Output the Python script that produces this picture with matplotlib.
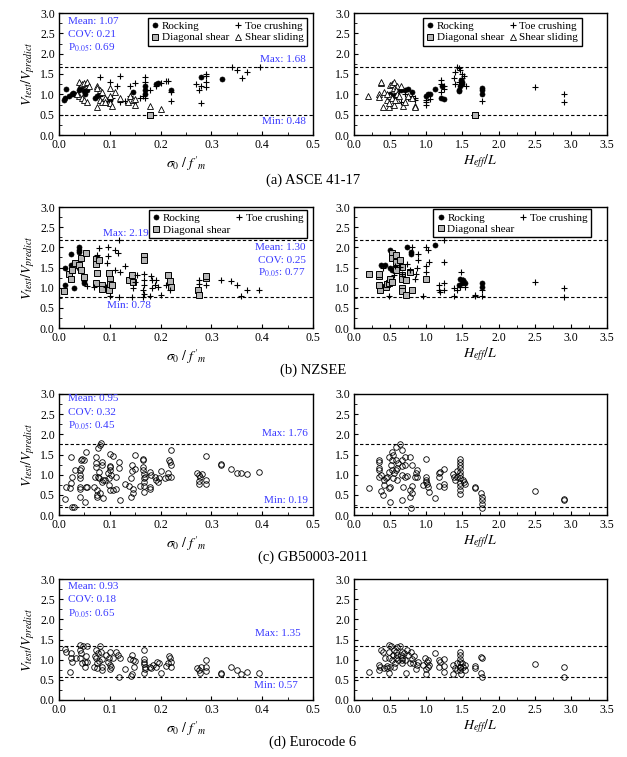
import matplotlib
matplotlib.use("Agg")
import matplotlib.pyplot as plt
import matplotlib.transforms as mtransforms
from matplotlib.ticker import MultipleLocator

plt.rcParams['font.family'] = ['Liberation Serif', 'DejaVu Serif']
plt.rcParams['mathtext.fontset'] = 'stix'

# ---------------- (a) ASCE 41-17 ----------------
a_l_rock_x = [0.01, 0.012, 0.013, 0.02, 0.025, 0.028, 0.03, 0.04, 0.042, 0.045, 0.05, 0.052, 0.055, 0.07, 0.075, 0.08, 0.1, 0.145, 0.17, 0.17, 0.17, 0.19, 0.195, 0.22, 0.28, 0.32]
a_l_rock_y = [0.85, 0.9, 1.12, 0.95, 1.0, 1.03, 1.0, 1.1, 1.15, 1.2, 1.08, 1.0, 1.1, 0.9, 0.95, 1.0, 0.85, 1.05, 1.2, 1.1, 1.0, 1.25, 1.28, 1.1, 1.43, 1.37]
a_l_toe_x = [0.08, 0.12, 0.1, 0.115, 0.12, 0.13, 0.14, 0.14, 0.15, 0.16, 0.17, 0.17, 0.165, 0.17, 0.18, 0.19, 0.2, 0.21, 0.215, 0.22, 0.22, 0.27, 0.275, 0.28, 0.28, 0.29, 0.29, 0.29, 0.29, 0.34, 0.35, 0.36, 0.37, 0.395, 0.08, 0.095, 0.105]
a_l_toe_y = [1.42, 1.45, 1.3, 1.2, 0.8, 0.83, 0.95, 1.2, 1.27, 0.9, 1.42, 1.3, 0.95, 0.9, 1.1, 1.2, 1.28, 1.32, 1.33, 1.05, 0.83, 1.25, 1.1, 1.2, 0.78, 1.5, 1.45, 1.3, 1.17, 1.68, 1.6, 1.4, 1.55, 1.68, 0.95, 0.85, 0.9]
a_l_diag_x = [0.18, 0.18]
a_l_diag_y = [0.5, 0.48]
a_l_slide_x = [0.04, 0.045, 0.05, 0.055, 0.04, 0.045, 0.05, 0.055, 0.035, 0.075, 0.08, 0.085, 0.075, 0.08, 0.085, 0.09, 0.1, 0.1, 0.1, 0.105, 0.11, 0.12, 0.135, 0.14, 0.145, 0.15, 0.15, 0.18, 0.2, 0.075, 0.06, 0.09]
a_l_slide_y = [1.3, 1.25, 1.28, 1.3, 0.95, 0.9, 0.85, 0.8, 1.0, 1.2, 1.1, 1.05, 0.7, 0.85, 0.8, 0.9, 1.15, 0.95, 0.78, 0.72, 1.05, 0.9, 0.8, 0.95, 0.85, 0.88, 0.75, 0.72, 0.65, 1.15, 1.2, 0.82]

a_r_rock_x = [0.6, 0.65, 0.7, 0.75, 0.8, 1.0, 1.02, 1.05, 1.12, 1.2, 1.25, 1.22, 1.45, 1.47, 1.48, 1.5, 1.5, 1.77, 1.77, 1.77, 0.55, 0.5, 1.45]
a_r_rock_y = [1.05, 1.1, 1.1, 1.12, 1.05, 0.95, 1.0, 1.0, 1.13, 0.9, 0.88, 1.2, 1.1, 1.2, 1.35, 1.25, 1.3, 1.15, 1.1, 1.0, 0.95, 1.0, 1.08]
a_r_toe_x = [0.7, 0.75, 0.8, 0.85, 0.85, 1.0, 1.0, 1.0, 1.05, 1.2, 1.2, 1.25, 1.25, 1.2, 1.38, 1.4, 1.42, 1.45, 1.47, 1.5, 1.52, 1.4, 1.45, 1.55, 1.77, 2.5, 2.9, 2.9, 0.65, 1.5]
a_r_toe_y = [1.0, 0.9, 0.95, 0.85, 0.9, 0.75, 0.8, 0.85, 0.88, 1.35, 1.25, 1.2, 1.12, 1.05, 1.4, 1.55, 1.68, 1.65, 1.6, 1.5, 1.45, 1.25, 1.3, 1.2, 0.83, 1.17, 1.0, 0.8, 0.8, 1.4]
a_r_diag_x = [1.68, 1.67]
a_r_diag_y = [0.5, 0.48]
a_r_slide_x = [0.2, 0.35, 0.37, 0.38, 0.35, 0.4, 0.42, 0.45, 0.48, 0.5, 0.52, 0.55, 0.55, 0.5, 0.53, 0.55, 0.6, 0.6, 0.65, 0.68, 0.7, 0.45, 0.48, 0.58, 0.6, 0.75, 0.8, 0.85, 0.85, 0.62, 0.57]
a_r_slide_y = [0.97, 1.0, 1.27, 1.3, 0.93, 0.7, 1.05, 0.85, 0.68, 1.22, 1.25, 1.3, 1.15, 0.95, 0.9, 0.75, 1.2, 0.85, 1.2, 0.72, 0.8, 1.0, 0.78, 1.1, 1.0, 0.95, 0.9, 0.72, 0.7, 0.95, 0.85]

# ---------------- (b) NZSEE ----------------
b_l_rock_x = [0.0125, 0.0125, 0.023, 0.023, 0.029, 0.039, 0.039, 0.039, 0.039, 0.049, 0.05]
b_l_rock_y = [1.07, 1.50, 1.84, 1.55, 0.99, 2.02, 1.94, 1.88, 1.50, 1.12, 1.16]
b_l_diag_x = [0.01, 0.019, 0.023, 0.026, 0.032, 0.039, 0.044, 0.044, 0.053, 0.05, 0.072, 0.072, 0.074, 0.072, 0.079, 0.084, 0.084, 0.099, 0.1, 0.1, 0.099, 0.105, 0.138, 0.143, 0.145, 0.168, 0.168, 0.215, 0.218, 0.22, 0.274, 0.276, 0.29, 0.29]
b_l_diag_y = [0.92, 1.33, 1.22, 1.43, 1.61, 1.57, 1.74, 1.43, 1.86, 1.26, 1.72, 1.58, 1.36, 1.12, 1.68, 1.07, 0.96, 1.36, 1.22, 1.10, 0.95, 1.06, 1.18, 1.31, 1.14, 1.78, 1.69, 1.31, 1.17, 1.02, 0.93, 0.83, 1.24, 1.28]
b_l_toe_x = [0.097, 0.116, 0.11, 0.097, 0.095, 0.11, 0.12, 0.13, 0.118, 0.074, 0.079, 0.069, 0.055, 0.093, 0.1, 0.118, 0.143, 0.153, 0.149, 0.146, 0.168, 0.168, 0.168, 0.166, 0.181, 0.184, 0.188, 0.191, 0.195, 0.179, 0.2, 0.184, 0.218, 0.21, 0.276, 0.276, 0.29, 0.319, 0.339, 0.35, 0.37, 0.393, 0.359, 0.168, 0.166]
b_l_toe_y = [2.02, 1.86, 1.94, 1.78, 1.61, 1.45, 1.39, 1.53, 2.17, 1.80, 1.99, 1.02, 1.03, 1.02, 0.79, 0.77, 0.77, 1.31, 1.14, 0.98, 1.35, 1.18, 1.06, 0.93, 1.28, 1.18, 1.07, 1.18, 1.02, 0.79, 0.81, 0.98, 0.95, 1.06, 1.10, 1.20, 1.06, 1.18, 1.16, 1.07, 0.95, 0.93, 0.79, 0.85, 0.77]

b_r_rock_x = [0.5, 0.38, 0.43, 0.5, 0.52, 0.74, 0.79, 0.79, 1.12, 1.47, 1.49, 1.51, 1.53, 1.45, 1.77, 1.77, 0.58]
b_r_rock_y = [1.93, 1.55, 1.55, 1.49, 1.43, 2.02, 1.88, 1.83, 2.05, 1.22, 1.12, 1.18, 1.12, 1.06, 1.12, 1.02, 1.43]
b_r_diag_x = [0.21, 0.35, 0.35, 0.36, 0.35, 0.44, 0.45, 0.49, 0.52, 0.52, 0.58, 0.58, 0.58, 0.63, 0.66, 0.67, 0.67, 0.67, 0.67, 0.72, 0.72, 0.77, 0.8, 1.0, 0.5, 0.52]
b_r_diag_y = [1.33, 1.28, 1.35, 0.95, 1.06, 1.02, 1.10, 1.12, 1.86, 1.74, 1.80, 1.64, 1.43, 1.68, 1.51, 1.31, 1.22, 0.98, 0.92, 1.18, 0.83, 1.39, 0.95, 1.22, 1.22, 1.14]
b_r_toe_x = [0.4, 0.48, 0.55, 0.57, 0.64, 0.66, 0.74, 0.77, 0.8, 0.86, 0.85, 0.87, 0.88, 0.88, 0.96, 1.0, 1.03, 1.0, 1.0, 1.04, 1.18, 1.18, 1.19, 1.25, 1.25, 1.25, 1.25, 1.38, 1.39, 1.42, 1.46, 1.48, 1.51, 1.53, 1.68, 1.68, 1.77, 1.77, 2.51, 2.9, 2.9]
b_r_toe_y = [1.49, 0.79, 1.31, 1.53, 1.51, 1.35, 1.59, 1.45, 2.0, 1.35, 1.22, 1.49, 1.68, 1.84, 0.79, 2.02, 1.93, 1.53, 1.39, 1.64, 0.93, 1.07, 0.89, 0.93, 1.12, 1.64, 2.17, 0.79, 0.98, 0.95, 1.02, 1.39, 1.2, 1.02, 0.79, 0.83, 0.79, 0.95, 1.14, 0.98, 0.77]

# ---------------- (c) GB50003-2011 ----------------
c_l_x = [0.011, 0.014, 0.021, 0.024, 0.026, 0.024, 0.026, 0.03, 0.032, 0.041, 0.041, 0.041, 0.041, 0.041, 0.041, 0.044, 0.044, 0.046, 0.051, 0.053, 0.055, 0.054, 0.049, 0.069, 0.07, 0.072, 0.072, 0.072, 0.074, 0.074, 0.075, 0.076, 0.076, 0.08, 0.079, 0.079, 0.082, 0.084, 0.085, 0.084, 0.086, 0.086, 0.08, 0.09, 0.097, 0.099, 0.1, 0.1, 0.101, 0.1, 0.102, 0.1, 0.099, 0.107, 0.107, 0.112, 0.113, 0.118, 0.118, 0.12, 0.13, 0.138, 0.141, 0.141, 0.143, 0.144, 0.146, 0.146, 0.149, 0.149, 0.159, 0.166, 0.166, 0.166, 0.166, 0.167, 0.167, 0.168, 0.168, 0.168, 0.169, 0.179, 0.18, 0.179, 0.182, 0.188, 0.191, 0.195, 0.197, 0.2, 0.208, 0.215, 0.217, 0.218, 0.22, 0.22, 0.22, 0.215, 0.271, 0.276, 0.278, 0.276, 0.276, 0.281, 0.29, 0.29, 0.29, 0.319, 0.319, 0.339, 0.35, 0.359, 0.37, 0.393]
c_l_y = [0.39, 0.69, 0.67, 1.43, 0.95, 0.79, 0.19, 0.21, 1.12, 1.12, 0.99, 0.91, 0.69, 0.64, 0.44, 1.36, 1.16, 1.40, 0.33, 0.69, 0.70, 1.57, 1.36, 0.69, 0.95, 1.45, 1.28, 1.18, 0.50, 0.44, 0.62, 0.95, 1.65, 1.74, 1.07, 0.91, 1.78, 1.24, 1.32, 0.83, 0.87, 0.41, 0.54, 0.87, 1.03, 0.91, 1.51, 1.18, 1.21, 1.12, 0.99, 0.62, 0.74, 1.47, 0.62, 0.95, 0.64, 1.32, 1.16, 0.37, 0.77, 0.72, 0.91, 0.44, 1.24, 1.10, 0.54, 0.64, 1.13, 1.49, 0.72, 1.36, 1.40, 1.2, 1.12, 1.02, 0.91, 0.83, 0.72, 0.58, 0.95, 1.07, 0.69, 0.64, 0.99, 0.93, 0.87, 0.83, 0.91, 1.10, 0.91, 1.05, 1.36, 1.32, 1.62, 1.24, 0.95, 0.93, 1.05, 0.99, 0.93, 0.85, 0.77, 1.02, 1.46, 0.87, 0.77, 1.26, 1.24, 1.13, 1.05, 1.03, 1.01, 1.07]
c_r_x = [0.21, 0.34, 0.34, 0.35, 0.35, 0.34, 0.37, 0.38, 0.4, 0.41, 0.42, 0.44, 0.46, 0.48, 0.48, 0.49, 0.5, 0.5, 0.51, 0.52, 0.52, 0.52, 0.54, 0.54, 0.55, 0.58, 0.58, 0.58, 0.59, 0.6, 0.61, 0.63, 0.66, 0.66, 0.66, 0.67, 0.67, 0.68, 0.7, 0.71, 0.71, 0.73, 0.77, 0.78, 0.78, 0.79, 0.8, 0.8, 0.8, 0.84, 0.86, 0.87, 0.87, 0.96, 1.0, 1.0, 1.0, 1.0, 1.01, 1.03, 1.04, 1.12, 1.18, 1.18, 1.18, 1.19, 1.25, 1.25, 1.25, 1.37, 1.38, 1.4, 1.42, 1.42, 1.46, 1.47, 1.47, 1.47, 1.47, 1.47, 1.47, 1.47, 1.47, 1.47, 1.47, 1.51, 1.52, 1.54, 1.67, 1.67, 1.76, 1.77, 1.77, 1.77, 1.77, 2.51, 2.9, 2.9]
c_r_y = [0.66, 1.36, 1.32, 1.16, 1.12, 0.95, 0.99, 0.60, 0.50, 0.88, 0.74, 0.91, 0.95, 1.45, 1.07, 0.66, 0.69, 0.33, 1.24, 1.57, 1.36, 1.12, 0.91, 1.49, 1.03, 1.69, 1.36, 1.12, 0.88, 1.16, 1.28, 1.75, 0.37, 1.60, 1.36, 1.21, 0.99, 0.69, 1.45, 1.24, 0.95, 0.97, 1.43, 0.62, 0.44, 0.18, 1.24, 0.71, 0.54, 0.95, 1.03, 1.12, 0.95, 0.74, 1.40, 0.95, 0.88, 0.83, 0.77, 0.69, 0.58, 0.41, 0.95, 1.03, 0.72, 1.07, 1.13, 0.77, 0.69, 1.02, 0.93, 0.87, 1.10, 0.95, 1.07, 1.38, 1.32, 1.24, 1.16, 0.99, 0.91, 0.80, 0.71, 0.62, 0.52, 0.88, 0.83, 0.77, 0.69, 0.66, 0.55, 0.45, 0.36, 0.27, 0.18, 0.60, 0.39, 0.36]

# ---------------- (d) Eurocode 6 ----------------
d_l_x = [0.011, 0.013, 0.021, 0.024, 0.024, 0.026, 0.034, 0.041, 0.041, 0.041, 0.044, 0.046, 0.047, 0.051, 0.051, 0.053, 0.055, 0.055, 0.069, 0.07, 0.072, 0.072, 0.074, 0.075, 0.077, 0.079, 0.08, 0.082, 0.084, 0.084, 0.085, 0.092, 0.097, 0.099, 0.1, 0.1, 0.1, 0.103, 0.107, 0.112, 0.116, 0.118, 0.12, 0.13, 0.139, 0.141, 0.143, 0.144, 0.146, 0.148, 0.149, 0.168, 0.168, 0.168, 0.168, 0.169, 0.169, 0.168, 0.179, 0.182, 0.186, 0.191, 0.192, 0.197, 0.2, 0.21, 0.215, 0.217, 0.218, 0.22, 0.22, 0.271, 0.276, 0.278, 0.28, 0.29, 0.29, 0.29, 0.319, 0.319, 0.339, 0.35, 0.359, 0.37, 0.393]
d_l_y = [1.26, 1.18, 0.70, 1.16, 1.04, 0.95, 1.04, 1.37, 1.24, 1.04, 1.16, 0.91, 1.33, 0.95, 0.83, 1.08, 1.35, 0.95, 0.83, 1.08, 1.24, 1.04, 0.91, 0.79, 1.16, 0.97, 1.35, 1.20, 1.01, 0.83, 0.75, 1.12, 0.95, 1.04, 1.20, 0.87, 0.76, 0.83, 1.04, 1.20, 1.12, 0.56, 1.04, 0.76, 1.01, 0.60, 0.65, 1.12, 0.99, 0.83, 0.97, 1.24, 1.01, 0.95, 0.89, 0.83, 0.76, 0.68, 0.83, 0.79, 0.87, 0.83, 0.93, 0.91, 0.66, 0.85, 0.91, 1.10, 1.04, 0.95, 0.81, 0.79, 0.75, 0.66, 0.81, 0.99, 0.83, 0.72, 0.65, 0.66, 0.81, 0.75, 0.65, 0.70, 0.68]
d_r_x = [0.21, 0.34, 0.34, 0.36, 0.37, 0.4, 0.42, 0.43, 0.45, 0.46, 0.48, 0.48, 0.49, 0.49, 0.5, 0.51, 0.52, 0.54, 0.55, 0.55, 0.57, 0.58, 0.58, 0.59, 0.6, 0.61, 0.63, 0.65, 0.66, 0.66, 0.67, 0.67, 0.69, 0.71, 0.72, 0.74, 0.75, 0.77, 0.79, 0.8, 0.82, 0.83, 0.86, 0.87, 0.88, 0.96, 0.98, 1.0, 1.0, 1.01, 1.02, 1.03, 1.04, 1.12, 1.17, 1.18, 1.19, 1.24, 1.25, 1.25, 1.37, 1.37, 1.4, 1.42, 1.42, 1.46, 1.47, 1.47, 1.47, 1.47, 1.47, 1.47, 1.48, 1.5, 1.51, 1.53, 1.54, 1.67, 1.67, 1.76, 1.77, 1.76, 1.77, 2.51, 2.9, 2.9]
d_r_y = [0.70, 0.75, 0.86, 0.81, 1.24, 1.20, 0.79, 1.04, 0.79, 0.85, 1.04, 0.66, 1.37, 1.20, 0.83, 1.35, 1.0, 1.12, 0.83, 1.24, 0.91, 1.04, 1.20, 1.31, 1.12, 1.0, 1.33, 1.12, 0.99, 1.20, 1.04, 0.91, 1.16, 1.0, 0.66, 1.24, 1.12, 0.91, 1.18, 1.01, 0.91, 1.10, 0.76, 0.87, 0.95, 0.87, 1.04, 0.76, 0.65, 0.95, 0.83, 0.99, 0.87, 1.16, 0.99, 0.83, 0.93, 1.01, 0.85, 0.70, 0.87, 0.65, 0.79, 0.91, 0.75, 0.83, 1.20, 1.12, 1.01, 0.95, 0.83, 0.75, 0.65, 0.91, 0.83, 0.75, 0.87, 0.85, 0.79, 1.06, 1.04, 0.68, 0.58, 0.89, 0.81, 0.56]

# limits and stats
max_lines = [1.68, 2.19, 1.76, 1.35]
min_lines = [0.48, 0.78, 0.19, 0.57]
stats = [("1.07", "0.21", "0.69"), ("1.30", "0.25", "0.77"), ("0.95", "0.32", "0.45"), ("0.93", "0.18", "0.65")]
captions = ["(a) ASCE 41-17", "(b) NZSEE", "(c) GB50003-2011", "(d) Eurocode 6"]

BLUE = '#3a3aff'
W, H = 627, 757
fig = plt.figure(figsize=(W / 100, H / 100), dpi=100)

def px_axes(x0, x1, y0, y1):
    return fig.add_axes([x0 / W, (H - y1) / H, (x1 - x0) / W, (y1 - y0) / H])

row_px = [(13, 135), (207, 328), (394, 515), (579, 700)]
caption_y = [180, 370, 557, 742]

def style(ax, left):
    ax.set_ylim(0, 3.0)
    ax.yaxis.set_major_locator(MultipleLocator(0.5))
    ax.yaxis.set_minor_locator(MultipleLocator(0.25))
    if left:
        ax.set_xlim(0, 0.5)
        ax.xaxis.set_major_locator(MultipleLocator(0.1))
        ax.xaxis.set_minor_locator(MultipleLocator(0.05))
        ax.set_xlabel(r"$\sigma_0\ /\ f'_m$", fontsize=10, labelpad=2)
        ax.set_ylabel(r"$V_{test}/V_{predict}$", fontsize=10, labelpad=2)
    else:
        ax.set_xlim(0, 3.5)
        ax.xaxis.set_major_locator(MultipleLocator(0.5))
        ax.xaxis.set_minor_locator(MultipleLocator(0.25))
        ax.set_xlabel(r"$H_{eff}/L$", fontsize=10, labelpad=1)
    ax.xaxis.set_major_formatter(matplotlib.ticker.FormatStrFormatter('%.1f'))
    ax.yaxis.set_major_formatter(matplotlib.ticker.FormatStrFormatter('%.1f'))
    ax.tick_params(which='major', direction='in', length=3, width=0.8, labelsize=8.5, pad=3)
    ax.tick_params(which='minor', direction='in', length=2, width=0.6)
    for sp in ax.spines.values():
        sp.set_linewidth(1.0)

def hlines(ax, i):
    ax.axhline(max_lines[i], color='black', linestyle=(0, (3, 2)), linewidth=0.8, zorder=1)
    ax.axhline(min_lines[i], color='black', linestyle=(0, (3, 2)), linewidth=0.8, zorder=1)

rock_kw = dict(linestyle='none', marker='o', ms=3.6, mfc='black', mec='black', mew=0.5)
toe_kw = dict(linestyle='none', marker='+', ms=4.5, mec='black', mew=0.8)
diag_kw = dict(linestyle='none', marker='s', ms=4.3, mfc='#b5b5b5', mec='black', mew=0.7)
slide_kw = dict(linestyle='none', marker='^', ms=4, mfc='white', mec='black', mew=0.6)
open_kw = dict(linestyle='none', marker='o', ms=4, mfc='none', mec='black', mew=0.6)

leg_kw = dict(fontsize=8, frameon=True, fancybox=False, edgecolor='black', framealpha=1,
              handlelength=0.7, handletextpad=0.25, columnspacing=0.45, borderpad=0.3,
              labelspacing=0.15, borderaxespad=0)

axes = []
for r, (y0, y1) in enumerate(row_px):
    axl = px_axes(59, 313, y0, y1)
    axr = px_axes(354, 607, y0, y1)
    style(axl, True)
    style(axr, False)
    hlines(axl, r)
    hlines(axr, r)
    axes.append((axl, axr))
    fig.text(313 / W, 1 - caption_y[r] / H, captions[r], ha='center', va='center', fontsize=10.5)

# (a)
axl, axr = axes[0]
h1, = axl.plot(a_l_rock_x, a_l_rock_y, label='Rocking', **rock_kw)
h2, = axl.plot(a_l_diag_x, a_l_diag_y, label='Diagonal shear', **diag_kw)
h3, = axl.plot(a_l_toe_x, a_l_toe_y, label='Toe crushing', **toe_kw)
h4, = axl.plot(a_l_slide_x, a_l_slide_y, label='Shear sliding', **slide_kw)
axl.legend(handles=[h1, h2, h3, h4], ncol=2, loc='upper right', bbox_to_anchor=(0.976, 0.96), **leg_kw)
g1, = axr.plot(a_r_rock_x, a_r_rock_y, label='Rocking', **rock_kw)
g2, = axr.plot(a_r_diag_x, a_r_diag_y, label='Diagonal shear', **diag_kw)
g3, = axr.plot(a_r_toe_x, a_r_toe_y, label='Toe crushing', **toe_kw)
g4, = axr.plot(a_r_slide_x, a_r_slide_y, label='Shear sliding', **slide_kw)
axr.legend(handles=[g1, g2, g3, g4], ncol=2, loc='upper right', bbox_to_anchor=(0.90, 0.96), **leg_kw)

# (b)
axl, axr = axes[1]
h1, = axl.plot(b_l_rock_x, b_l_rock_y, label='Rocking', **rock_kw)
h2, = axl.plot(b_l_diag_x, b_l_diag_y, label='Diagonal shear', **diag_kw)
h3, = axl.plot(b_l_toe_x, b_l_toe_y, label='Toe crushing', **toe_kw)
axl.legend(handles=[h1, h2, h3], ncol=2, loc='upper right', bbox_to_anchor=(0.976, 0.975), **leg_kw)
g1, = axr.plot(b_r_rock_x, b_r_rock_y, label='Rocking', **rock_kw)
g2, = axr.plot(b_r_diag_x, b_r_diag_y, label='Diagonal shear', **diag_kw)
g3, = axr.plot(b_r_toe_x, b_r_toe_y, label='Toe crushing', **toe_kw)
axr.legend(handles=[g1, g2, g3], ncol=2, loc='upper right', bbox_to_anchor=(0.937, 0.98), **leg_kw)

# (c)
axl, axr = axes[2]
axl.plot(c_l_x, c_l_y, **open_kw)
axr.plot(c_r_x, c_r_y, **open_kw)
# (d)
axl, axr = axes[3]
axl.plot(d_l_x, d_l_y, **open_kw)
axr.plot(d_r_x, d_r_y, **open_kw)

# stats text
tfs = 8
def stat_block(ax, x, ys, i, ha='left', trans_data=False):
    m, c, p = stats[i]
    lines = ["Mean: " + m, "COV: " + c, r"P$_{0.05}$: " + p]
    tr = mtransforms.blended_transform_factory(ax.transAxes, ax.transData) if trans_data else ax.transAxes
    for s, yy in zip(lines, ys):
        ax.text(x, yy, s, transform=tr, ha=ha, va='center', color=BLUE, fontsize=tfs)

def mm_text(ax, x, y, s, ha):
    tr = mtransforms.blended_transform_factory(ax.transAxes, ax.transData)
    ax.text(x, y, s, transform=tr, ha=ha, va='center', color=BLUE, fontsize=tfs)

ax = axes[0][0]
stat_block(ax, 0.035, [0.93, 0.82, 0.715], 0)
mm_text(ax, 0.97, 1.68 + 0.18, "Max: 1.68", 'right')
mm_text(ax, 0.97, 0.48 - 0.16, "Min: 0.48", 'right')

ax = axes[1][0]
stat_block(ax, 0.97, [2.0, 1.68, 1.36], 1, ha='right', trans_data=True)
mm_text(ax, 0.175, 2.19 + 0.15, "Max: 2.19", 'left')
mm_text(ax, 0.19, 0.78 - 0.22, "Min: 0.78", 'left')

ax = axes[2][0]
stat_block(ax, 0.035, [0.96, 0.85, 0.735], 2)
mm_text(ax, 0.98, 1.76 + 0.26, "Max: 1.76", 'right')
mm_text(ax, 0.98, 0.19 + 0.16, "Min: 0.19", 'right')

ax = axes[3][0]
stat_block(ax, 0.035, [0.935, 0.83, 0.71], 3)
mm_text(ax, 0.95, 1.35 + 0.31, "Max: 1.35", 'right')
mm_text(ax, 0.94, 0.57 - 0.22, "Min: 0.57", 'right')

fig.savefig("out.png", dpi=100)
